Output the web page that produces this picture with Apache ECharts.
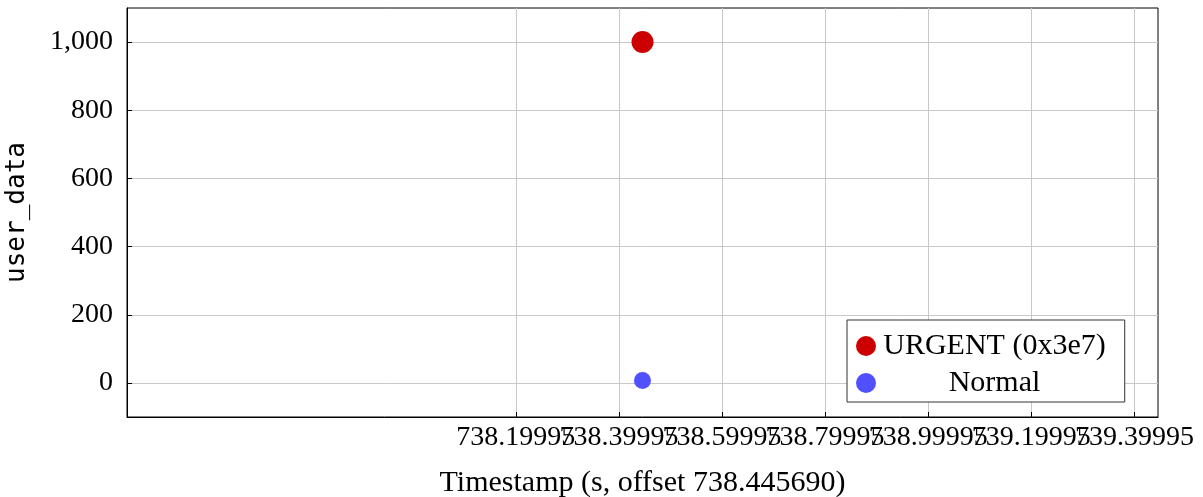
<!DOCTYPE html>
<html>
<head>
<meta charset="utf-8">
<script src="https://cdn.jsdelivr.net/npm/echarts@6/dist/echarts.min.js"></script>
<style>html,body{margin:0;padding:0;background:#fff}#c{width:1203px;height:497px}</style>
</head>
<body>
<div id="c"></div>
<script>
const seriesNames = ['URGENT (0x3e7)', 'Normal'];
const urgentPoints = [[738.44569, 1000]];
const normalPoints = [[738.44569, 7]];
const xTicks = [738.19995, 738.39995, 738.59995, 738.79995, 738.99995, 739.19995, 739.39995];
const yTicks = [0, 200, 400, 600, 800, 1000];
const xRange = [737.44569, 739.44569];
const yRange = [-100, 1100];

// labels are split over two overlapping axes so that ECharts does not drop overlapping ones
const xLabelsA = xTicks.filter((v, i) => i % 2 === 0);
const xLabelsB = xTicks.filter((v, i) => i % 2 === 1);

const serif = '"Liberation Serif", "DejaVu Serif", serif';
const labelStyle = {fontFamily: serif, fontSize: 28, color: '#000', margin: 7, hideOverlap: false, interval: 0, formatter: v => v.toFixed(5)};
const chart = echarts.init(document.getElementById('c'));
chart.setOption({
  animation: false,
  backgroundColor: '#fff',
  grid: {left: 127, top: 8, right: 45, bottom: 80, show: true, borderColor: '#000', borderWidth: 1, containLabel: false, outerBoundsMode: 'none'},
  legend: {
    orient: 'vertical', left: 847, top: 320,
    data: seriesNames,
    icon: 'circle', itemWidth: 20, itemHeight: 20, itemGap: 7,
    padding: [11, 19, 4, 9],
    borderColor: '#333', borderWidth: 1, backgroundColor: '#fff',
    formatter: n => '{a|' + n + '}',
    textStyle: {rich: {a: {width: 227, align: 'center', fontFamily: serif, fontSize: 30, color: '#000'}}}
  },
  xAxis: [{
    type: 'value', min: xRange[0], max: xRange[1], position: 'bottom', offset: 0,
    name: 'Timestamp (s, offset 738.445690)', nameLocation: 'middle', nameGap: 51, nameMoveOverlap: false,
    nameTextStyle: {fontFamily: serif, fontSize: 30, color: '#000'},
    axisLine: {onZero: false, lineStyle: {color: '#000'}},
    axisTick: {inside: true, length: 5, customValues: xTicks, lineStyle: {color: '#000'}},
    axisLabel: Object.assign({customValues: xLabelsA}, labelStyle),
    splitLine: {show: true, lineStyle: {color: '#c8c8c8'}}
  }, {
    type: 'value', min: xRange[0], max: xRange[1], position: 'bottom', offset: 0,
    axisLine: {show: false, onZero: false},
    axisTick: {show: false},
    axisLabel: Object.assign({customValues: xLabelsB}, labelStyle),
    splitLine: {show: false}
  }],
  yAxis: {
    type: 'value', min: yRange[0], max: yRange[1],
    name: 'user_data', nameLocation: 'middle', nameGap: 97, nameRotate: 90, nameMoveOverlap: false,
    nameTextStyle: {fontFamily: '"DejaVu Sans Mono", "Liberation Mono", monospace', fontSize: 26, color: '#000'},
    axisLine: {onZero: false, lineStyle: {color: '#000'}},
    axisTick: {inside: true, length: 5, customValues: yTicks, lineStyle: {color: '#000'}},
    axisLabel: {customValues: yTicks, interval: 0, formatter: v => v >= 1000 ? String(v).replace(/\B(?=(\d{3})+(?!\d))/g, ',') : String(v), fontFamily: serif, fontSize: 28, color: '#000', margin: 14},
    splitLine: {show: true, lineStyle: {color: '#c8c8c8'}}
  },
  series: [
    {name: seriesNames[0], type: 'scatter', xAxisIndex: 0, data: urgentPoints, symbol: 'circle', symbolSize: 22, itemStyle: {color: '#cc0000', opacity: 1}},
    {name: seriesNames[1], type: 'scatter', xAxisIndex: 0, data: normalPoints, symbol: 'circle', symbolSize: 17, itemStyle: {color: '#5050ff', opacity: 1}}
  ]
});
</script>
</body>
</html>
